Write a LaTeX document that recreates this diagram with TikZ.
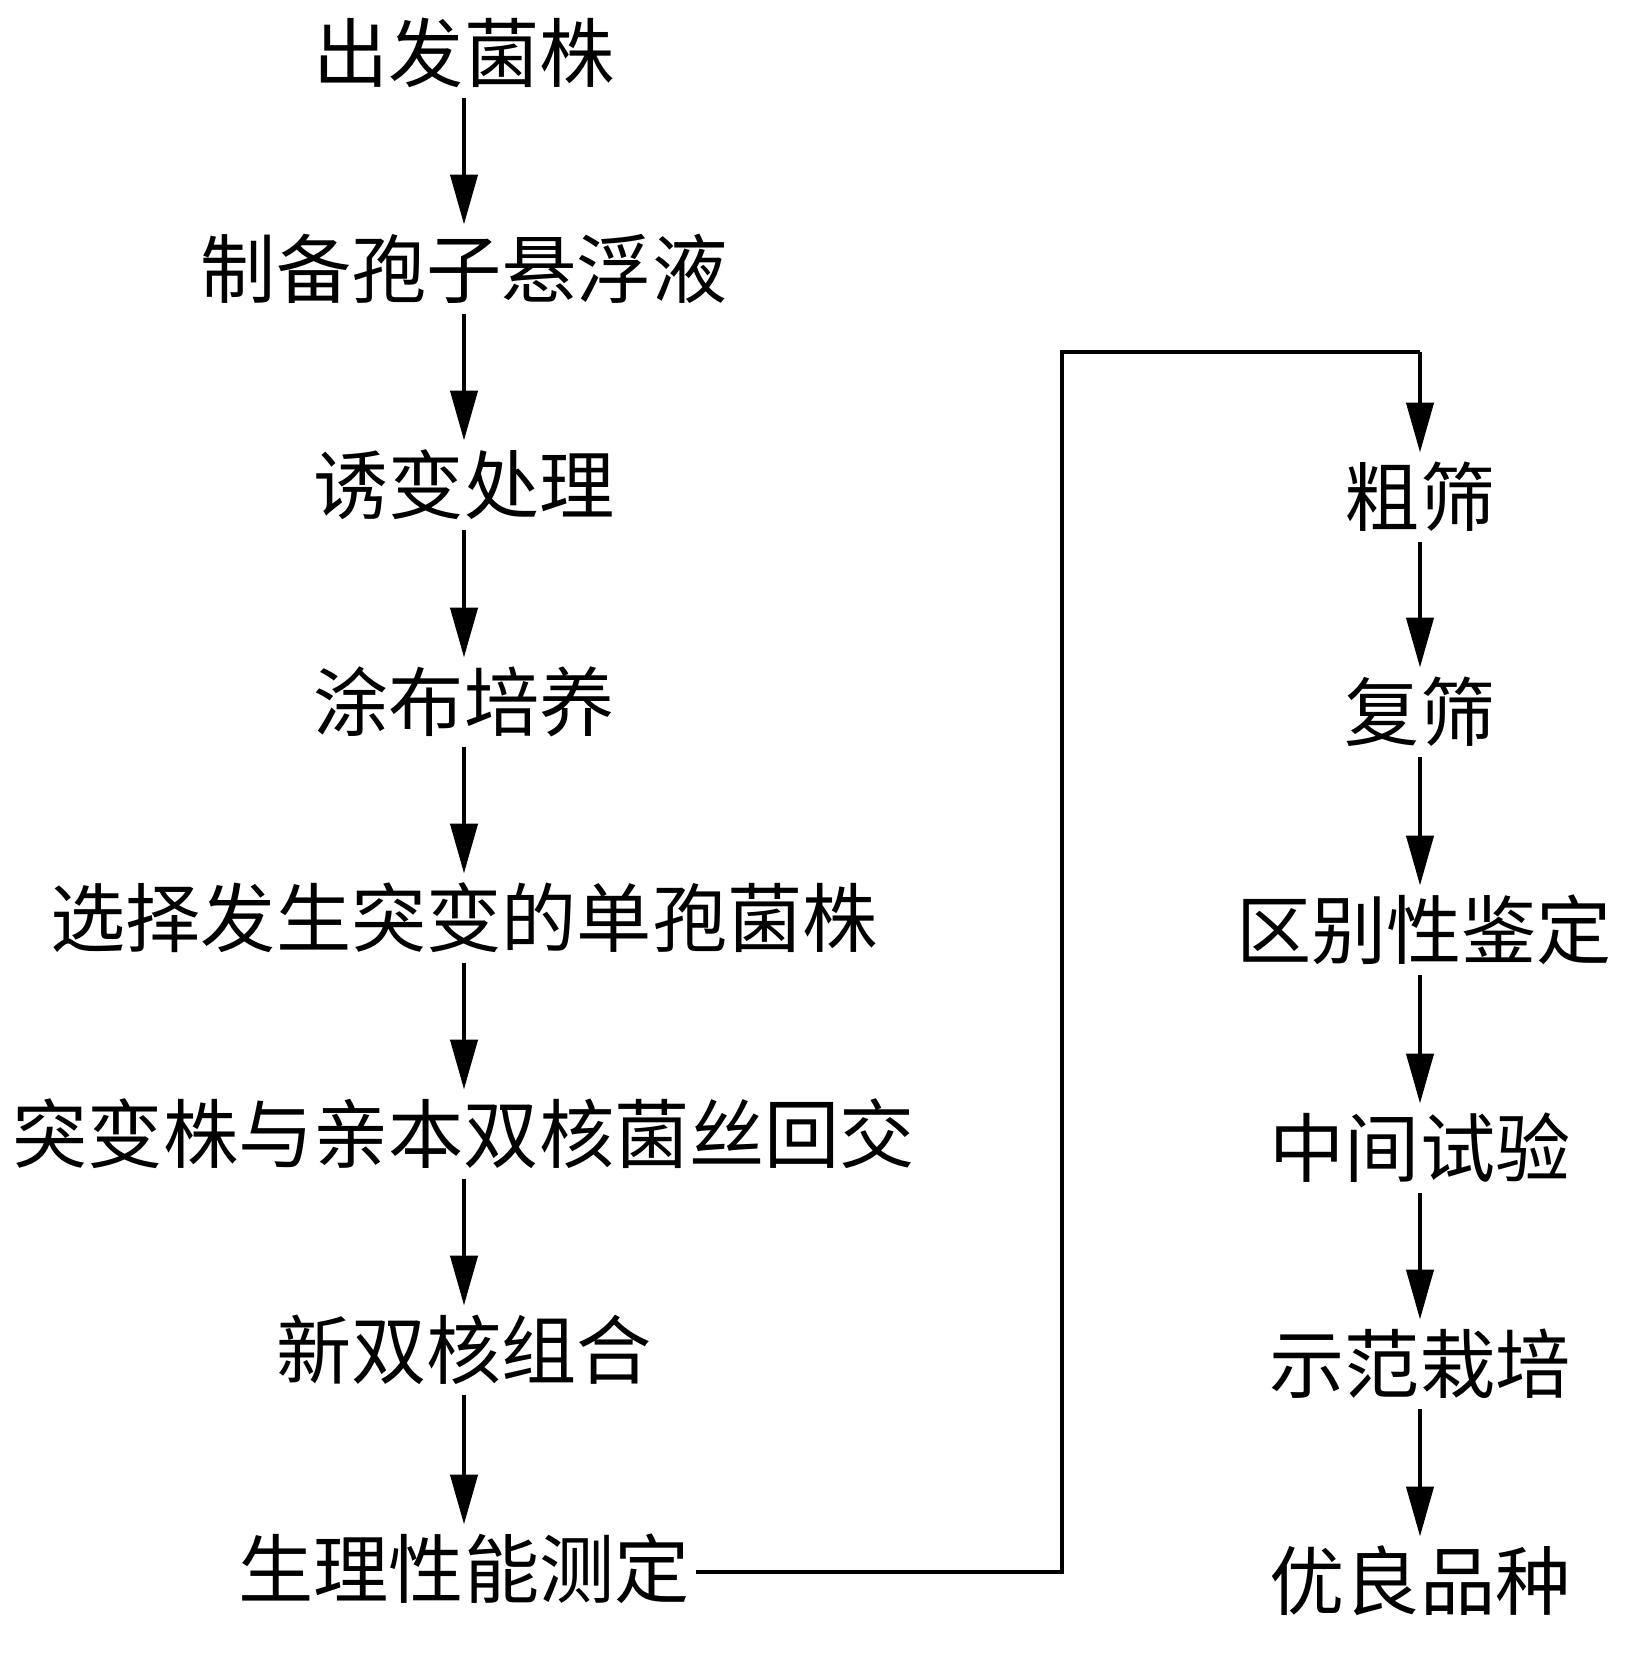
\documentclass[tikz,border=0pt]{standalone}
\usepackage{fontspec}
\newfontfamily\cjk{Noto Sans CJK SC}
\usetikzlibrary{arrows.meta}
\begin{document}
\begin{tikzpicture}[x=0.5pt,y=-0.5pt,
  lab/.style={font=\cjk\fontsize{37.6pt}{40pt}\selectfont, inner sep=0pt, outer sep=0pt, text height=31.5pt, text depth=3pt},
  arr/.style={line width=2.2pt, shorten <=5pt, shorten >=5pt, -{Triangle[length=25pt,width=13.5pt]}},
  conn/.style={line width=2.2pt}]
\useasboundingbox (0,0) rectangle (1648,1654);
% left column
\node[lab] (a1) at (464,53)  {出发菌株};
\node[lab] (a2) at (464,269) {制备孢子悬浮液};
\node[lab] (a3) at (464,485) {诱变处理};
\node[lab] (a4) at (464,702) {涂布培养};
\node[lab] (a5) at (464,918) {选择发生突变的单孢菌株};
\node[lab] (a6) at (464,1134) {突变株与亲本双核菌丝回交};
\node[lab] (a7) at (464,1350) {新双核组合};
\node[lab] (a8) at (464,1569) {生理性能测定};
% right column
\node[lab] (b1) at (1420,497)  {粗筛};
\node[lab] (b2) at (1420,712)  {复筛};
\node[lab] (b3) at (1424,930)  {区别性鉴定};
\node[lab] (b4) at (1420,1148) {中间试验};
\node[lab] (b5) at (1420,1364) {示范栽培};
\node[lab] (b6) at (1420,1581) {优良品种};
% arrows
\foreach \i/\j in {a1/a2,a2/a3,a3/a4,a4/a5,a5/a6,a6/a7,a7/a8,b1/b2,b4/b5,b5/b6}
  \draw[arr] (\i) -- (\j);
\draw[arr] (b2.south -| b1) -- (b3.north -| b1);
\draw[arr] (b3.south -| b1) -- (b4.north -| b1);
% connector
\coordinate (c1) at (1062,1572);
\coordinate (c2) at (1062,352);
\coordinate (c3) at (1420,352);
\draw[conn] ([xshift=3pt]a8.east |- c1) -- (c1) -- (c2) -- (c3);
\draw[arr, shorten <=0pt] (c3) -- (b1.north);
\end{tikzpicture}
\end{document}
